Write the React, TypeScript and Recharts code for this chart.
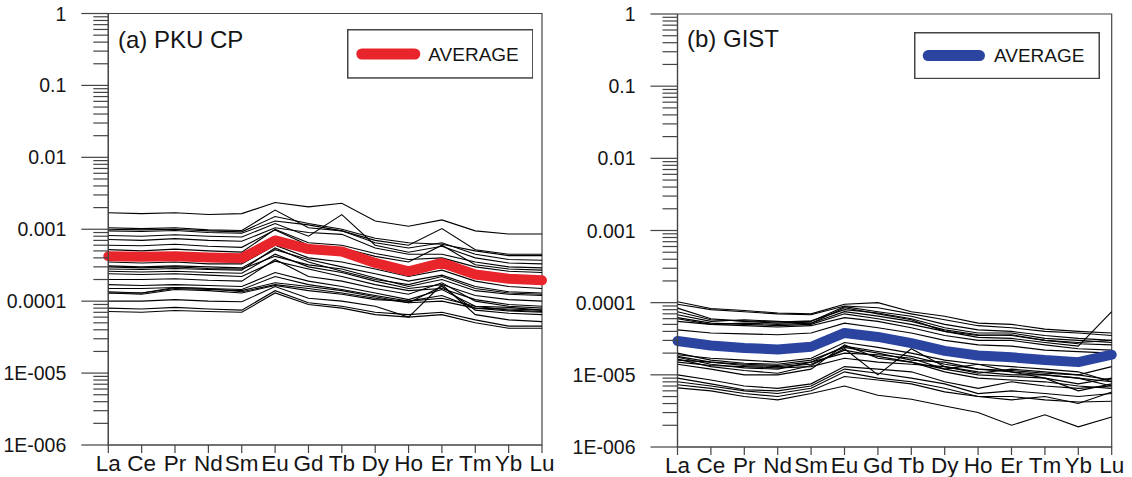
import React from 'react';
import { LineChart, Line, XAxis, YAxis, ReferenceArea, Legend } from 'recharts';

const elements = ['La', 'Ce', 'Pr', 'Nd', 'Sm', 'Eu', 'Gd', 'Tb', 'Dy', 'Ho', 'Er', 'Tm', 'Yb', 'Lu'];
const yMajorTicks = [1e-6, 1e-5, 1e-4, 1e-3, 1e-2, 1e-1, 1];
const yTickLabels = ['1E-006', '1E-005', '0.0001', '0.001', '0.01', '0.1', '1'];

const pkuAverage = [4.2e-4, 4.15e-4, 4.2e-4, 4.05e-4, 3.95e-4, 7.0e-4, 5.3e-4, 4.9e-4, 3.4e-4, 2.6e-4, 3.4e-4, 2.35e-4, 2.05e-4, 1.95e-4];
const pkuSamples = [
  [1.7e-3, 1.65e-3, 1.7e-3, 1.6e-3, 1.65e-3, 2.35e-3, 2.05e-3, 2.3e-3, 1.3e-3, 1.1e-3, 1.35e-3, 9.5e-4, 8.6e-4, 8.6e-4],
  [1.05e-3, 1.02e-3, 1.05e-3, 9.8e-4, 9.6e-4, 1.85e-3, 1.05e-3, 9.5e-4, 7.0e-4, 6.0e-4, 1.02e-3, 5.2e-4, 4.5e-4, 4.5e-4],
  [1.0e-3, 9.8e-4, 1.0e-3, 9.5e-4, 9.2e-4, 1.5e-3, 1.2e-3, 1.0e-3, 7.5e-4, 6.5e-4, 6.2e-4, 5.0e-4, 4.3e-4, 4.3e-4],
  [9.5e-4, 9.3e-4, 9.6e-4, 9.0e-4, 8.8e-4, 1.3e-3, 1.15e-3, 9.5e-4, 6.5e-4, 5.5e-4, 6.5e-4, 4.5e-4, 3.8e-4, 3.7e-4],
  [8.2e-4, 8.0e-4, 8.4e-4, 8.0e-4, 7.8e-4, 1.2e-3, 8.0e-4, 1.6e-3, 6.0e-4, 4.8e-4, 5.8e-4, 4.0e-4, 3.4e-4, 3.3e-4],
  [7.2e-4, 7.0e-4, 7.4e-4, 7.0e-4, 6.8e-4, 1.05e-3, 9.0e-4, 8.5e-4, 5.5e-4, 4.5e-4, 4.5e-4, 3.5e-4, 3.0e-4, 2.9e-4],
  [6.0e-4, 5.9e-4, 6.2e-4, 5.8e-4, 5.6e-4, 9.8e-4, 6.0e-4, 5.5e-4, 4.2e-4, 3.5e-4, 6.0e-4, 3.2e-4, 2.8e-4, 2.7e-4],
  [5.2e-4, 5.0e-4, 5.3e-4, 5.0e-4, 4.8e-4, 1.0e-3, 6.5e-4, 6.0e-4, 4.6e-4, 3.8e-4, 4.0e-4, 3.0e-4, 2.6e-4, 2.5e-4],
  [3.5e-4, 3.4e-4, 3.5e-4, 3.3e-4, 3.3e-4, 6.0e-4, 4.0e-4, 3.5e-4, 2.8e-4, 2.2e-4, 2.7e-4, 1.9e-4, 1.6e-4, 1.5e-4],
  [3.1e-4, 3.0e-4, 3.1e-4, 3.0e-4, 2.9e-4, 5.2e-4, 3.8e-4, 3.0e-4, 2.4e-4, 1.9e-4, 2.3e-4, 1.6e-4, 1.35e-4, 1.3e-4],
  [3.0e-4, 2.9e-4, 3.0e-4, 2.85e-4, 2.8e-4, 4.2e-4, 3.2e-4, 2.8e-4, 2.1e-4, 1.6e-4, 2.0e-4, 1.4e-4, 1.25e-4, 1.2e-4],
  [2.8e-4, 2.75e-4, 2.85e-4, 2.75e-4, 2.7e-4, 5.5e-4, 3.5e-4, 2.6e-4, 2.0e-4, 1.7e-4, 2.2e-4, 1.5e-4, 1.3e-4, 1.25e-4],
  [2.6e-4, 2.55e-4, 2.6e-4, 2.5e-4, 2.45e-4, 4.5e-4, 3.0e-4, 2.5e-4, 1.9e-4, 1.5e-4, 1.7e-4, 1.2e-4, 1.05e-4, 1.0e-4],
  [2.4e-4, 2.35e-4, 2.4e-4, 2.3e-4, 2.2e-4, 3.6e-4, 2.8e-4, 2.2e-4, 1.7e-4, 1.4e-4, 1.5e-4, 1.05e-4, 9.0e-5, 8.5e-5],
  [2.0e-4, 2.0e-4, 2.05e-4, 1.95e-4, 1.9e-4, 3.8e-4, 2.2e-4, 1.9e-4, 1.5e-4, 1.25e-4, 1.8e-4, 1.0e-4, 8.5e-5, 8.0e-5],
  [1.7e-4, 1.65e-4, 1.7e-4, 1.65e-4, 1.6e-4, 2.5e-4, 1.9e-4, 1.6e-4, 1.3e-4, 1.05e-4, 1.45e-4, 8.5e-5, 7.5e-5, 7.2e-5],
  [1.5e-4, 1.5e-4, 1.55e-4, 1.5e-4, 1.45e-4, 2.2e-4, 1.7e-4, 1.45e-4, 1.2e-4, 1.0e-4, 1.2e-4, 8.0e-5, 7.3e-5, 7.0e-5],
  [1.35e-4, 1.3e-4, 1.5e-4, 1.45e-4, 1.4e-4, 1.8e-4, 1.6e-4, 1.4e-4, 1.15e-4, 9.5e-5, 1.6e-4, 7.5e-5, 6.8e-5, 6.5e-5],
  [1.3e-4, 1.3e-4, 1.55e-4, 1.5e-4, 1.35e-4, 1.7e-4, 1.5e-4, 1.3e-4, 1.1e-4, 9.5e-5, 1.0e-4, 8.0e-5, 7.8e-5, 7.5e-5],
  [1.3e-4, 1.25e-4, 1.45e-4, 1.4e-4, 1.3e-4, 1.65e-4, 1.4e-4, 1.25e-4, 1.05e-4, 1.0e-4, 1.1e-4, 8.5e-5, 8.2e-5, 7.5e-5],
  [1.0e-4, 1.0e-4, 1.05e-4, 1.0e-4, 9.8e-5, 1.6e-4, 1.1e-4, 1.0e-4, 8.5e-5, 6.0e-5, 1.7e-4, 6.5e-5, 5.5e-5, 5.2e-5],
  [8.0e-5, 7.8e-5, 8.2e-5, 7.8e-5, 7.5e-5, 1.4e-4, 9.5e-5, 8.5e-5, 7.0e-5, 6.5e-5, 7.0e-5, 5.5e-5, 4.5e-5, 4.5e-5],
  [7.2e-5, 7.0e-5, 7.4e-5, 7.2e-5, 7.0e-5, 1.3e-4, 9.0e-5, 8.0e-5, 6.5e-5, 6.0e-5, 6.5e-5, 5.0e-5, 4.2e-5, 4.2e-5],
];

const gistAverage = [2.95e-5, 2.55e-5, 2.35e-5, 2.25e-5, 2.45e-5, 3.8e-5, 3.35e-5, 2.75e-5, 2.15e-5, 1.85e-5, 1.75e-5, 1.6e-5, 1.5e-5, 1.9e-5];
const gistSamples = [
  [1.03e-4, 8.3e-5, 7.8e-5, 7.2e-5, 7.0e-5, 9.5e-5, 1.0e-4, 7.5e-5, 6.5e-5, 5.2e-5, 5.0e-5, 4.3e-5, 4.0e-5, 3.8e-5],
  [9.5e-5, 8.0e-5, 7.5e-5, 7.0e-5, 6.8e-5, 9.0e-5, 8.5e-5, 7.0e-5, 5.8e-5, 4.8e-5, 4.5e-5, 4.0e-5, 3.8e-5, 3.5e-5],
  [8.4e-5, 6.0e-5, 5.5e-5, 5.2e-5, 5.5e-5, 8.8e-5, 7.5e-5, 6.5e-5, 5.0e-5, 4.2e-5, 4.0e-5, 3.5e-5, 3.2e-5, 3.0e-5],
  [7.5e-5, 5.8e-5, 5.6e-5, 5.4e-5, 5.6e-5, 8.0e-5, 7.2e-5, 6.0e-5, 4.5e-5, 3.8e-5, 3.8e-5, 3.2e-5, 3.0e-5, 2.8e-5],
  [6.8e-5, 5.5e-5, 5.8e-5, 5.5e-5, 5.2e-5, 7.5e-5, 6.5e-5, 5.5e-5, 4.2e-5, 3.6e-5, 3.5e-5, 3.0e-5, 2.7e-5, 2.6e-5],
  [6.2e-5, 5.2e-5, 5.0e-5, 4.8e-5, 5.0e-5, 7.0e-5, 6.0e-5, 5.0e-5, 4.0e-5, 3.3e-5, 3.2e-5, 2.8e-5, 2.5e-5, 7.5e-5],
  [6.0e-5, 5.0e-5, 5.2e-5, 5.0e-5, 5.2e-5, 8.5e-5, 7.0e-5, 5.8e-5, 4.0e-5, 3.5e-5, 3.6e-5, 3.0e-5, 2.8e-5, 3.0e-5],
  [5.5e-5, 5.0e-5, 4.8e-5, 4.6e-5, 4.8e-5, 6.2e-5, 5.5e-5, 4.5e-5, 3.5e-5, 3.0e-5, 3.0e-5, 2.6e-5, 2.3e-5, 2.2e-5],
  [4.2e-5, 3.8e-5, 3.7e-5, 3.6e-5, 3.8e-5, 5.2e-5, 4.5e-5, 3.8e-5, 3.0e-5, 2.6e-5, 2.5e-5, 2.2e-5, 2.1e-5, 2.0e-5],
  [2.0e-5, 1.6e-5, 1.45e-5, 1.4e-5, 1.6e-5, 2.4e-5, 2.0e-5, 1.6e-5, 1.5e-5, 1.2e-5, 1.1e-5, 1.0e-5, 9.0e-6, 7.0e-6],
  [1.9e-5, 1.7e-5, 1.6e-5, 1.5e-5, 1.7e-5, 2.8e-5, 2.4e-5, 2.0e-5, 1.6e-5, 1.4e-5, 1.3e-5, 1.2e-5, 1.1e-5, 8.0e-6],
  [1.8e-5, 1.5e-5, 1.35e-5, 1.3e-5, 1.4e-5, 2.2e-5, 1.8e-5, 1.5e-5, 1.2e-5, 1.4e-5, 1.1e-5, 9.0e-6, 7.5e-6, 9.0e-6],
  [1.75e-5, 1.4e-5, 1.25e-5, 1.2e-5, 1.5e-5, 2.5e-5, 2.1e-5, 1.8e-5, 1.4e-5, 1.2e-5, 1.15e-5, 1.05e-5, 1.0e-5, 8.5e-6],
  [1.65e-5, 1.3e-5, 1.15e-5, 1.05e-5, 1.35e-5, 2.3e-5, 1.0e-5, 2.3e-5, 1.3e-5, 1.1e-5, 1.0e-5, 1.0e-5, 9.0e-6, 8.0e-6],
  [1.6e-5, 1.5e-5, 1.4e-5, 1.35e-5, 1.5e-5, 2.0e-5, 1.9e-5, 1.7e-5, 1.2e-5, 1.0e-5, 9.5e-6, 9.0e-6, 6.0e-6, 7.5e-6],
  [1.5e-5, 1.35e-5, 1.3e-5, 1.25e-5, 1.3e-5, 1.7e-5, 1.5e-5, 1.4e-5, 1.3e-5, 1.05e-5, 1.2e-5, 1.1e-5, 1.0e-5, 1.3e-5],
  [1.4e-5, 1.2e-5, 1.0e-5, 1.0e-5, 1.2e-5, 2.6e-5, 1.7e-5, 1.5e-5, 1.1e-5, 9.0e-6, 8.5e-6, 8.0e-6, 7.0e-6, 6.5e-6],
  [1.0e-5, 8.5e-6, 7.0e-6, 6.5e-6, 7.5e-6, 1.3e-5, 1.2e-5, 1.1e-5, 8.0e-6, 6.5e-6, 8.0e-6, 7.0e-6, 6.5e-6, 7.0e-6],
  [9.0e-6, 7.5e-6, 6.2e-6, 6.0e-6, 7.0e-6, 1.2e-5, 1.05e-5, 9.0e-6, 7.5e-6, 5.5e-6, 6.0e-6, 5.5e-6, 5.0e-6, 5.5e-6],
  [8.0e-6, 7.0e-6, 6.0e-6, 5.5e-6, 6.5e-6, 1.1e-5, 9.0e-6, 8.0e-6, 6.5e-6, 5.0e-6, 5.0e-6, 4.5e-6, 4.2e-6, 4.3e-6],
  [7.3e-6, 6.5e-6, 5.5e-6, 5.0e-6, 6.0e-6, 9.5e-6, 8.5e-6, 7.5e-6, 5.8e-6, 5.0e-6, 4.5e-6, 5.0e-6, 4.0e-6, 5.8e-6],
  [6.6e-6, 6.0e-6, 5.0e-6, 4.5e-6, 5.5e-6, 7.0e-6, 5.2e-6, 4.6e-6, 3.7e-6, 3.0e-6, 2.0e-6, 2.8e-6, 1.9e-6, 2.6e-6],
];

const FONT = "'Liberation Sans', Arial, Helvetica, sans-serif";
const AXIS_COLOR = '#444444';
const TEXT_COLOR = '#151515';

const yMinorTicks: number[] = [];
for (let e = -6; e < 0; e++) {
  for (let k = 2; k <= 9; k++) yMinorTicks.push(k * Math.pow(10, e));
}
const yAllTicks = [...yMajorTicks, ...yMinorTicks].sort((a, b) => a - b);

function buildRows(samples: number[][], avg: number[]) {
  return elements.map((el, i) => {
    const row: Record<string, any> = { el, avg: avg[i] };
    samples.forEach((s, j) => {
      row['s' + j] = s[i];
    });
    return row;
  });
}

const YTick = (props: any) => {
  const { x, y, payload } = props;
  const v = payload.value;
  const idx = yMajorTicks.findIndex((m) => Math.abs(m - v) / m < 1e-6);
  const major = idx >= 0;
  return (
    <g>
      <line x1={x - (major ? 27 : 15)} x2={x} y1={y} y2={y} stroke={AXIS_COLOR} strokeWidth={1.2} />
      {major && (
        <text x={x - 42} y={y} textAnchor="end" dominantBaseline="central" fontSize={19.5} fontFamily={FONT} fill={TEXT_COLOR}>
          {yTickLabels[idx]}
        </text>
      )}
    </g>
  );
};

const XTick = (props: any) => {
  const { x, y, payload } = props;
  return (
    <g>
      <line x1={x} x2={x} y1={y} y2={y + 8} stroke={AXIS_COLOR} strokeWidth={1.2} />
      <text x={x} y={y + 26} textAnchor="middle" fontSize={22.5} fontFamily={FONT} fill={TEXT_COLOR}>
        {payload.value}
      </text>
    </g>
  );
};

type Box = { left: number; top: number; width: number; height: number; lineX1: number; lineX2: number; lineY: number; textX: number };

function makeLegend(color: string, box: Box) {
  return (props: any) => {
    const items = (props.payload || []).filter((p: any) => p.dataKey === 'avg');
    const label = items.length ? items[0].value : '';
    return (
      <svg width={box.width} height={box.height} style={{ display: 'block' }}>
        <rect x={0.75} y={0.75} width={box.width - 1.5} height={box.height - 1.5} fill="#fff" stroke={AXIS_COLOR} strokeWidth={1.5} />
        <line x1={box.lineX1} x2={box.lineX2} y1={box.lineY} y2={box.lineY} stroke={color} strokeWidth={11} strokeLinecap="round" />
        <text x={box.textX} y={box.lineY} dominantBaseline="central" fontSize={19} fontFamily={FONT} fill={TEXT_COLOR}>
          {label}
        </text>
      </svg>
    );
  };
}

type PanelProps = {
  left: number;
  width: number;
  height: number;
  top: number;
  right: number;
  yAxisWidth: number;
  xAxisHeight: number;
  samples: number[][];
  avg: number[];
  color: string;
  title: string;
  titleX: number;
  titleY: number;
  box: Box;
};

function Panel(p: PanelProps) {
  const rows = buildRows(p.samples, p.avg);
  const LegendContent = makeLegend(p.color, p.box);
  return (
    <div style={{ position: 'absolute', left: p.left, top: 0, width: p.width, height: p.height }}>
      <LineChart width={p.width} height={p.height} data={rows} margin={{ top: p.top, right: p.right, bottom: 0, left: 0 }}>
        <XAxis
          dataKey="el"
          type="category"
          height={p.xAxisHeight}
          tickSize={0}
          tickMargin={0}
          interval={0}
          tickLine={false}
          axisLine={{ stroke: AXIS_COLOR, strokeWidth: 1.2 }}
          tick={(tp: any) => <XTick {...tp} />}
        />
        <YAxis
          type="number"
          scale="log"
          domain={[1e-6, 1]}
          allowDataOverflow
          ticks={yAllTicks}
          interval={0}
          width={p.yAxisWidth}
          tickSize={0}
          tickMargin={0}
          tickLine={false}
          axisLine={{ stroke: AXIS_COLOR, strokeWidth: 1.2 }}
          tick={(tp: any) => <YTick {...tp} />}
        />
        <ReferenceArea x1="La" x2="Lu" y1={1e-6} y2={1} fill="none" fillOpacity={0} stroke={AXIS_COLOR} strokeWidth={1.2} ifOverflow="visible" />
        {p.samples.map((_, j) => (
          <Line
            key={j}
            type="linear"
            dataKey={'s' + j}
            stroke="#000"
            strokeWidth={1.1}
            dot={false}
            activeDot={false}
            isAnimationActive={false}
            legendType="none"
          />
        ))}
        <Line
          type="linear"
          dataKey="avg"
          name="AVERAGE"
          stroke={p.color}
          strokeWidth={10}
          strokeLinecap="round"
          strokeLinejoin="round"
          dot={false}
          activeDot={false}
          isAnimationActive={false}
        />
        <Legend
          layout="horizontal"
          verticalAlign="middle"
          align="center"
          wrapperStyle={{ left: p.box.left, top: p.box.top, width: p.box.width, height: p.box.height }}
          content={LegendContent}
        />
      </LineChart>
      <svg width={p.width} height={p.height} style={{ position: 'absolute', left: 0, top: 0, pointerEvents: 'none' }}>
        <text x={p.titleX} y={p.titleY} fontSize={24} fontFamily={FONT} fill={TEXT_COLOR}>
          {p.title}
        </text>
      </svg>
    </div>
  );
}

export default function App() {
  return (
    <div style={{ position: 'absolute', left: 0, top: 0, width: 1132, height: 477, background: '#fff' }}>
      <Panel
        left={0}
        width={560}
        height={477}
        top={13.5}
        right={18}
        yAxisWidth={108.3}
        xAxisHeight={32}
        samples={pkuSamples}
        avg={pkuAverage}
        color="#e8252b"
        title="(a) PKU CP"
        titleX={118}
        titleY={48}
        box={{ left: 346.7, top: 29.3, width: 186.6, height: 49.7, lineX1: 14.8, lineX2: 67.8, lineY: 25, textX: 81.3 }}
      />
      <Panel
        left={570}
        width={562}
        height={477}
        top={14}
        right={20.3}
        yAxisWidth={107.5}
        xAxisHeight={30}
        samples={gistSamples}
        avg={gistAverage}
        color="#2a44a0"
        title="(b) GIST"
        titleX={117}
        titleY={47}
        box={{ left: 344, top: 31.7, width: 186, height: 47.3, lineX1: 14.2, lineX2: 65.5, lineY: 23.6, textX: 80 }}
      />
    </div>
  );
}
